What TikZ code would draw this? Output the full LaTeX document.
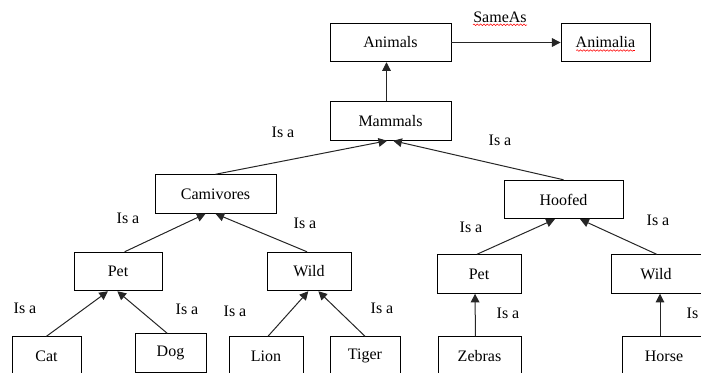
\documentclass[tikz,border=0pt]{standalone}
\usepackage{fontspec}
\setmainfont{Liberation Serif}
\usetikzlibrary{arrows.meta,decorations.pathmorphing}
\tikzset{
taxo/.style = { x = 0.75pt, y = -0.75pt, line width = 0.6pt, > = {Triangle[length=6.5pt,width=6.5pt]} },
concept/.style = { draw, rectangle, minimum height = 29pt, inner sep = 0pt, font = \fontsize{12}{14}\selectfont },
wide/.style = { concept, minimum width = #1*0.75pt },
isa/.style = { font = \fontsize{12}{14}\selectfont, inner sep = 0pt },
link/.style = { ->, draw = black!85, line width = 0.75pt },
typo/.style = { red, line width = 0.4pt, decorate, decoration = {snake, amplitude = 0.6pt, segment length = 2.5pt} } % spell check marks
}

\begin{document}
\begin{tikzpicture}[taxo]
	\useasboundingbox (0,0) rectangle (701,372);
	% top
	\node[wide=121] (animals) at (390.5,42.5) {Animals};
	\node[wide=89] (animalia) at (605.5,42.5) {Animalia};
	\node[wide=121] (mammals) at (390.5,121) {Mammals};
	% middle
	\node[wide=121] (carnivores) at (215.5,194) {Camivores};
	\node[wide=119] (hoofed) at (563.5,199.5) {Hoofed};
	\node[wide=88] (petA) at (118,271.5) {Pet};
	\node[wide=84] (wildA) at (309,271.5) {Wild};
	\node[wide=84] (petB) at (479,274) {Pet};
	\node[wide=90] (wildB) at (656,274) {Wild};
	% leaves
	\node[wide=69] (cat) at (46.5,356) {Cat};
	\node[wide=71] (dog) at (170.5,353) {Dog};
	\node[wide=74] (lion) at (266,356) {Lion};
	\node[wide=70] (tiger) at (365,356) {Tiger};
	\node[wide=83] (zebras) at (479.5,356) {Zebras};
	\node[wide=84] (horse) at (664,356) {Horse};

	\draw[link] (animals) -- (animalia);
	\draw[link] ([xshift=-3pt]mammals.north) -- ([xshift=-3pt]animals.south);
	\draw[link] (carnivores.north) -- ([xshift=-2.5pt]mammals.south);
	\draw[link] (hoofed.north) -- ([xshift=2pt]mammals.south);
	\draw[link] ([xshift=5pt]petA.north) -- ([xshift=-7.5pt]carnivores.south);
	\draw[link] ([xshift=-1.5pt]wildA.north) -- ([xshift=0pt]carnivores.south);
	\draw[link] (cat.north) -- ([xshift=-7.5pt]petA.south);
	\draw[link] ([xshift=-2.5pt]dog.north) -- ([xshift=-0.5pt]petA.south);
	\draw[link] ([xshift=1.5pt]lion.north) -- ([xshift=-0.5pt]wildA.south);
	\draw[link] (tiger.north) -- ([xshift=7pt]wildA.south);
	\draw[link] ([xshift=-1.5pt]petB.north) -- ([xshift=-6.5pt]hoofed.south);
	\draw[link] ([xshift=0.5pt]wildB.north) -- ([xshift=12.5pt]hoofed.south);
	\draw[link] ([xshift=-3pt]zebras.north) -- ([xshift=-3pt]petB.south);
	\draw[link] ([xshift=-3pt]horse.north) -- ([xshift=-3pt]horse.north |- wildB.south);

	% labels
	\node[isa] (sameas) at (500,17) {SameAs};
	\draw[typo] ([yshift=-1.5pt]sameas.south west) -- ([yshift=-1.5pt]sameas.south east);
	\draw[typo] ([xshift=-22pt,yshift=-6pt]animalia.center) -- ([xshift=22pt,yshift=-6pt]animalia.center);
	\node[isa] (isa1) at (283,132) {Is a};
	\node[isa] (isa2) at (500,140) {Is a};
	\node[isa] (isa3) at (128,218) {Is a};
	\node[isa] (isa4) at (305,223) {Is a};
	\node[isa] (isa5) at (25,308) {Is a};
	\node[isa] (isa6) at (187,309) {Is a};
	\node[isa] (isa7) at (235,311) {Is a};
	\node[isa] (isa8) at (382,308) {Is a};
	\node[isa] (isa9) at (471,227) {Is a};
	\node[isa] (isa10) at (658,220) {Is a};
	\node[isa] (isa11) at (508,313) {Is a};
	\node[isa] (isa12) at (698,313) {Is a};
\end{tikzpicture}
\end{document}
